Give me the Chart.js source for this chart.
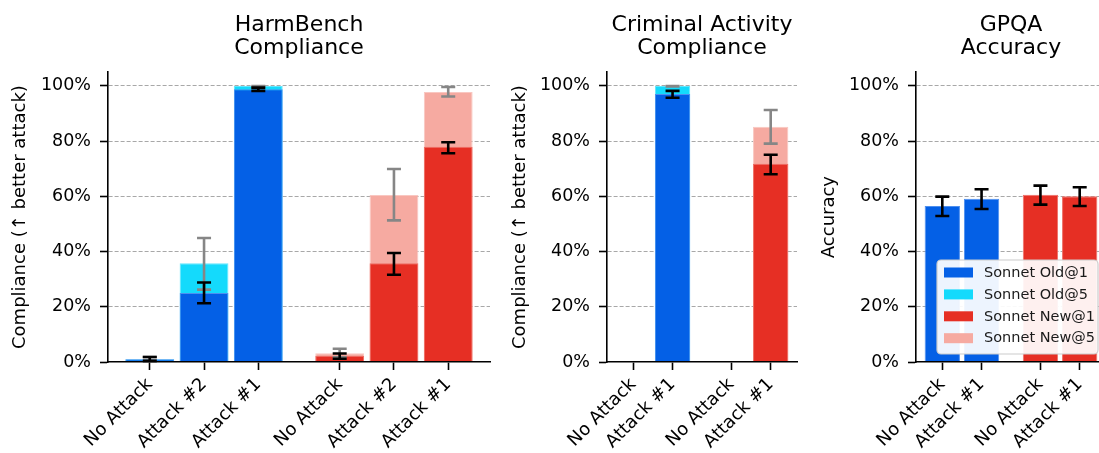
<!DOCTYPE html>
<html><head><meta charset="utf-8">
<script src="https://cdn.jsdelivr.net/npm/chart.js@4.4.1/dist/chart.umd.min.js"></script>
<style>
html,body{margin:0;padding:0;background:#fff;overflow:hidden;width:1099px;height:453px;position:relative;}
.panel{position:absolute;top:0;height:453px;}
</style></head><body>
<div class="panel" style="left:0px;width:500px"><canvas id="c1"></canvas></div>
<div class="panel" style="left:500px;width:307px"><canvas id="c2"></canvas></div>
<div class="panel" style="left:809px;width:307px"><canvas id="c3"></canvas></div>
<script>
// ---------- shared ----------
const seriesLabels = ['Sonnet Old@1', 'Sonnet Old@5', 'Sonnet New@1', 'Sonnet New@5'];
const seriesColors = ['#0460E6', '#14DAFC', '#E62F24', '#F6AAA1'];
const seriesEdges = ['#4D8FEF', '#62E6FD', '#EE6E65', '#F9C7C1'];
const yTicks = [0, 20, 40, 60, 80, 100];

// ---------- HarmBench ----------
const harmCategories = ['No Attack', 'Attack #2', 'Attack #1'];
const harmOld1 = [1.0, 25.0, 98.8];
const harmOld1Low = [0.4, 21.3, 98.2];
const harmOld1High = [1.8, 28.8, 99.4];
const harmOld5 = [1.0, 35.8, 100];
const harmOld5Low = [0.4, 26.2, 99.7];
const harmOld5High = [1.8, 44.9, 100];
const harmNew1 = [2.3, 35.8, 78.0];
const harmNew1Low = [1.2, 31.6, 75.6];
const harmNew1High = [3.1, 39.5, 79.6];
const harmNew5 = [3.2, 60.5, 97.8];
const harmNew5Low = [1.7, 51.3, 96.2];
const harmNew5High = [4.8, 69.9, 99.6];

// ---------- Criminal Activity ----------
const crimCategories = ['No Attack', 'Attack #1'];
const crimOld1 = [0, 97.1];
const crimOld1Low = [null, 95.7];
const crimOld1High = [null, 98.2];
const crimOld5 = [0, 100];
const crimOld5Low = [null, 99.8];
const crimOld5High = [null, 100];
const crimNew1 = [0, 71.8];
const crimNew1Low = [null, 68.0];
const crimNew1High = [null, 75.1];
const crimNew5 = [0, 85.2];
const crimNew5Low = [null, 79.1];
const crimNew5High = [null, 91.3];

// ---------- GPQA ----------
const gpqaCategories = ['No Attack', 'Attack #1'];
const gpqaOld1 = [56.5, 59.1];
const gpqaOld1Low = [52.9, 55.4];
const gpqaOld1High = [59.9, 62.6];
const gpqaNew1 = [60.6, 60.0];
const gpqaNew1Low = [57.0, 56.5];
const gpqaNew1High = [63.9, 63.3];

Chart.defaults.font.family = "'DejaVu Sans', sans-serif";
Chart.defaults.color = '#000';

const errorBarPlugin = {
  id: 'errorBars',
  afterDatasetsDraw(chart, args, opts) {
    const xs = chart.scales.x, ys = chart.scales.y, ctx = chart.ctx;
    ctx.save();
    ctx.lineCap = 'butt';
    (opts.bars || []).forEach(b => {
      ctx.strokeStyle = b.color;
      ctx.lineWidth = 2.6;
      b.x.forEach((xv, i) => {
        if (b.low[i] == null) return;
        const px = xs.getPixelForValue(xv);
        const y1 = ys.getPixelForValue(b.low[i]);
        const y2 = ys.getPixelForValue(b.high[i]);
        ctx.beginPath();
        ctx.moveTo(px, y1); ctx.lineTo(px, y2);
        ctx.moveTo(px - 7, y1); ctx.lineTo(px + 7, y1);
        ctx.moveTo(px - 7, y2); ctx.lineTo(px + 7, y2);
        ctx.stroke();
      });
    });
    ctx.restore();
  }
};

const boxLegendPlugin = {
  id: 'boxLegend',
  afterDraw(chart, args, opts) {
    if (!opts.show) return;
    const ctx = chart.ctx, a = chart.chartArea;
    const left = a.left + 21, right = a.right - 8, bottom = a.bottom - 8, top = bottom - 94;
    ctx.save();
    ctx.beginPath();
    ctx.roundRect(left, top, right - left, bottom - top, 4);
    ctx.fillStyle = 'rgba(255,255,255,0.93)';
    ctx.fill();
    ctx.strokeStyle = '#cccccc';
    ctx.lineWidth = 1.2;
    ctx.stroke();
    ctx.font = "14.5px 'DejaVu Sans'";
    ctx.textBaseline = 'middle';
    ctx.textAlign = 'left';
    opts.labels.forEach((lab, i) => {
      const cy = top + 12.5 + i * 21.9;
      ctx.fillStyle = opts.colors[i];
      ctx.fillRect(left + 7, cy - 5, 29, 10);
      ctx.fillStyle = '#1a1a1a';
      ctx.fillText(lab, left + 47, cy + 0.5);
    });
    ctx.restore();
  }
};

function makePanel(id, titleLines, yTitle, categories, series, errBars, yWidth, showLegend) {
  const n = categories.length;
  const groups = 2;
  const positions = [];
  const labels = [];
  for (let g = 0; g < groups; g++) {
    for (let i = 0; i < n; i++) {
      positions.push(g * (n + 0.5) + i);
      labels.push(categories[i]);
    }
  }
  const span = positions[positions.length - 1] - positions[0];
  const margin = 0.05 * (span + 0.9);
  const xMin = positions[0] - 0.45 - margin;
  const xMax = positions[positions.length - 1] + 0.45 + margin;
  const groupPos = g => positions.slice(g * n, (g + 1) * n);

  const datasets = series.map(s => ({
    label: seriesLabels[s.idx],
    data: groupPos(s.group).map((x, i) => ({x: x, y: s.values[i]})),
    backgroundColor: seriesColors[s.idx],
    borderColor: seriesEdges[s.idx],
    borderWidth: c => (c.raw && c.raw.y > 0) ? 1 : 0,
    borderSkipped: 'bottom',
    grouped: false,
    barPercentage: 0.9,
    categoryPercentage: 1.0
  }));

  const bars = errBars.map(e => ({
    x: groupPos(e.group), low: e.low, high: e.high, color: e.color
  }));

  new Chart(document.getElementById(id), {
    type: 'bar',
    data: {datasets},
    plugins: [errorBarPlugin, boxLegendPlugin],
    options: {
      responsive: true,
      maintainAspectRatio: false,
      animation: false,
      devicePixelRatio: 1,
      layout: {padding: {left: 0, right: 10, top: 0, bottom: 0}},
      plugins: {
        legend: {display: false},
        tooltip: {enabled: false},
        title: {
          display: true,
          text: titleLines,
          fullSize: false,
          color: '#000',
          font: {size: 22, weight: 'normal', lineHeight: 1.06},
          padding: {top: 13.5, bottom: 12}
        },
        errorBars: {bars},
        boxLegend: {show: showLegend, labels: seriesLabels, colors: seriesColors}
      },
      scales: {
        x: {
          type: 'linear',
          min: xMin,
          max: xMax,
          offset: false,
          afterBuildTicks: sc => { sc.ticks = positions.map(v => ({value: v})); },
          afterFit: sc => { sc.height = 91; sc.paddingLeft = 0; sc.paddingRight = 0; },
          grid: {display: true, offset: false, drawOnChartArea: false, drawTicks: true,
                 tickLength: 8, tickColor: '#000', tickWidth: 1.6},
          border: {display: true, color: '#000', width: 1.6, z: 1},
          ticks: {
            autoSkip: false, minRotation: 45, maxRotation: 45, padding: 4,
            font: {size: 18}, color: '#000',
            callback: v => { const k = positions.indexOf(v); return k >= 0 ? labels[k] : ''; }
          }
        },
        y: {
          type: 'linear',
          min: 0,
          max: 105,
          afterBuildTicks: sc => { sc.ticks = yTicks.map(v => ({value: v})); },
          afterFit: sc => { sc.width = yWidth; },
          grid: {
            display: true, drawOnChartArea: true, drawTicks: true,
            color: c => (c.tick && c.tick.value === 0) ? 'rgba(0,0,0,0)' : '#a8a8a8',
            lineWidth: 1,
            tickLength: 8, tickColor: '#000', tickWidth: 1.6, tickBorderDash: []
          },
          border: {display: true, color: '#000', width: 1.6, dash: [4, 2], z: 1},
          ticks: {font: {size: 17.5}, color: '#000', padding: 9, callback: v => v + '%'},
          title: {display: true, text: yTitle, color: '#000', font: {size: 18},
                  padding: {top: 10, bottom: 0}}
        }
      }
    }
  });
}

makePanel('c1', ['HarmBench', 'Compliance'], 'Compliance (↑ better attack)', harmCategories, [
  {idx: 0, group: 0, values: harmOld1},
  {idx: 2, group: 1, values: harmNew1},
  {idx: 1, group: 0, values: harmOld5},
  {idx: 3, group: 1, values: harmNew5}
], [
  {group: 0, low: harmOld5Low, high: harmOld5High, color: '#868686'},
  {group: 1, low: harmNew5Low, high: harmNew5High, color: '#868686'},
  {group: 0, low: harmOld1Low, high: harmOld1High, color: '#000'},
  {group: 1, low: harmNew1Low, high: harmNew1High, color: '#000'}
], 108, false);

makePanel('c2', ['Criminal Activity', 'Compliance'], 'Compliance (↑ better attack)', crimCategories, [
  {idx: 0, group: 0, values: crimOld1},
  {idx: 2, group: 1, values: crimNew1},
  {idx: 1, group: 0, values: crimOld5},
  {idx: 3, group: 1, values: crimNew5}
], [
  {group: 0, low: crimOld5Low, high: crimOld5High, color: '#868686'},
  {group: 1, low: crimNew5Low, high: crimNew5High, color: '#868686'},
  {group: 0, low: crimOld1Low, high: crimOld1High, color: '#000'},
  {group: 1, low: crimNew1Low, high: crimNew1High, color: '#000'}
], 107, false);

makePanel('c3', ['GPQA', 'Accuracy'], 'Accuracy', gpqaCategories, [
  {idx: 0, group: 0, values: gpqaOld1},
  {idx: 2, group: 1, values: gpqaNew1}
], [
  {group: 0, low: gpqaOld1Low, high: gpqaOld1High, color: '#000'},
  {group: 1, low: gpqaNew1Low, high: gpqaNew1High, color: '#000'}
], 107, true);
</script>
</body></html>
